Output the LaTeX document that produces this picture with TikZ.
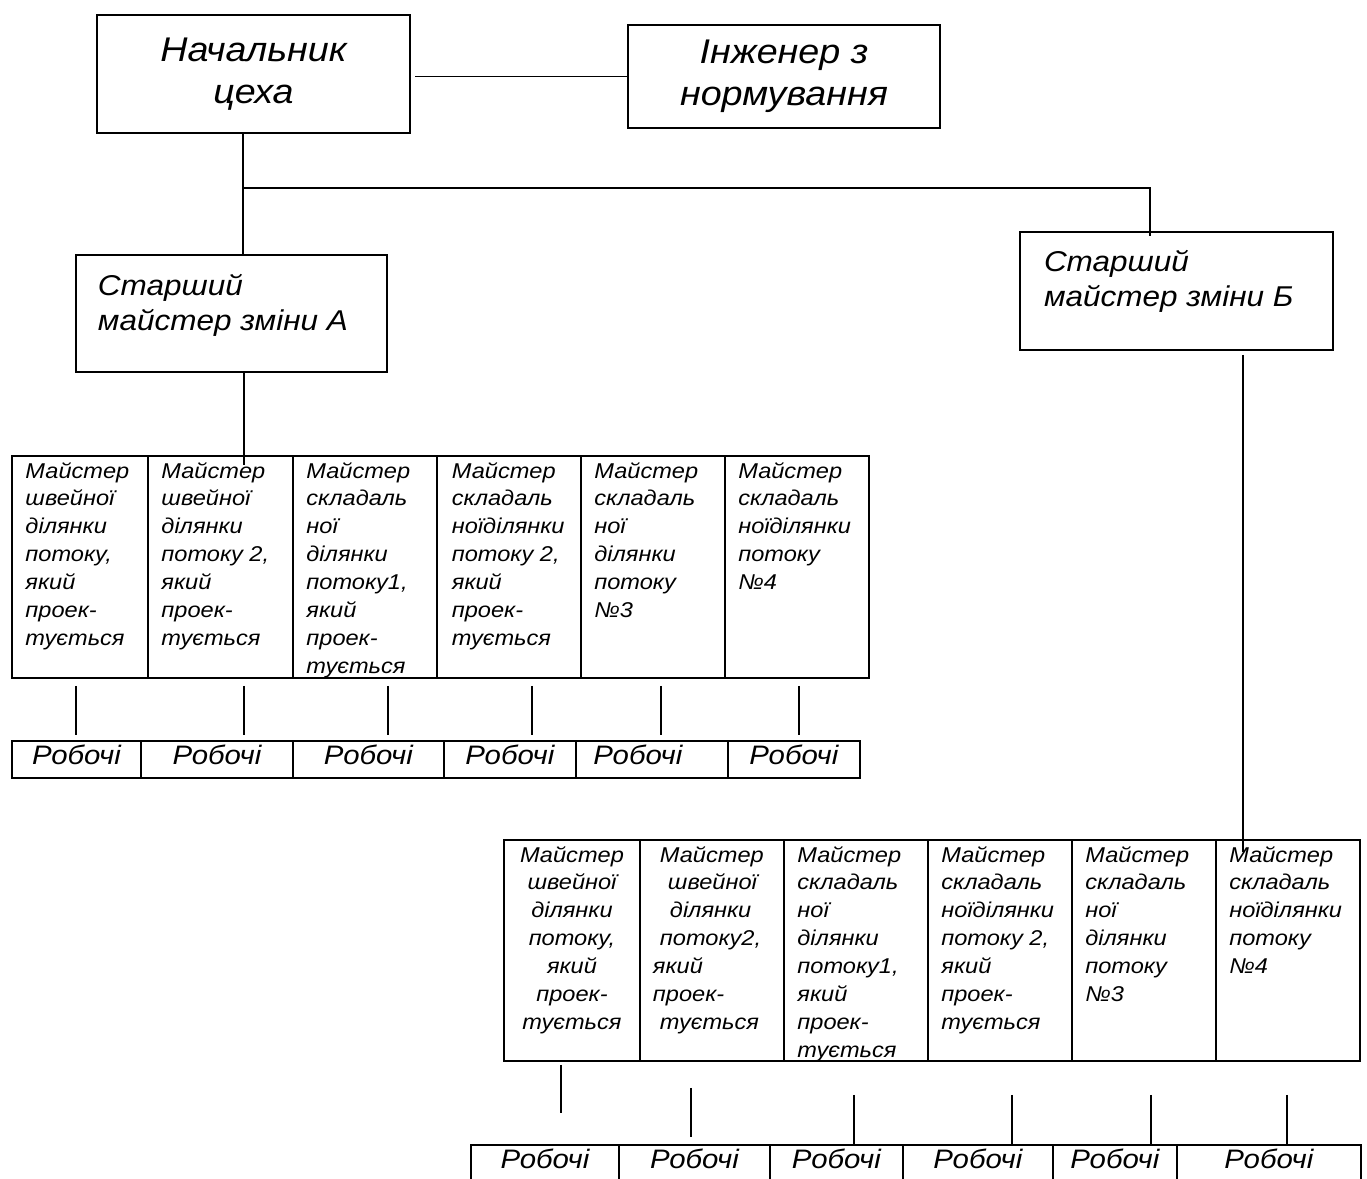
\documentclass[tikz,border=0pt]{standalone}
\usepackage{fontspec}
\setmainfont{Liberation Sans}[FakeStretch=1.1]
\usetikzlibrary{positioning,calc}

% text of a box, set from the top: [align]{width}{height}{top gap}{lines}
\newcommand{\boxpar}[5][\raggedright\leftskip=0.27cm]{%
  \parbox[t][#3][t]{#2}{\vspace{#4}#1\strut #5}}

\begin{document}
\begin{tikzpicture}[x=0.02cm, y=-0.02cm,
            every node/.style={line width=1.1pt, outer sep=0pt},
            bigbox/.style={draw, minimum width=6.26cm, minimum height=2.36cm, align=center,
                font=\fontsize{19.5}{23.8}\selectfont\itshape},
            midbox/.style={draw, anchor=north west, inner sep=0pt,
                font=\fontsize{16.3}{19.8}\selectfont\itshape},
            mcell/.style={draw, anchor=north west, inner sep=0pt,
                font=\fontsize{12.2}{15.9}\selectfont\itshape},
            wcell/.style={draw, anchor=north west, inner sep=0pt, minimum height=0.74cm,
                text height=10.5pt, text depth=5pt, font=\fontsize{15.2}{16}\selectfont\itshape},
            link/.style={line width=1.1pt}
        ]
            \useasboundingbox (0,0) rectangle (1367,1178);

            % top level
            \node[bigbox] (chief) at (253.5,74) {Начальник\\цеха};
            \node[bigbox, minimum width=6.24cm, minimum height=2.06cm] (eng) at (784,76.5) {Інженер з\\нормування};
            \node[midbox] (sa) at (76,255) {\boxpar[\raggedright\leftskip=0.44cm]{6.22cm}{2.34cm}{9.3pt}{Старший\\майстер зміни А}};
            \node[midbox] (sb) at (1020,232) {\boxpar[\raggedright\leftskip=0.48cm]{6.26cm}{2.36cm}{8.8pt}{Старший\\майстер зміни Б}};

            % shift A
            \node[mcell] (a1) at (12,456) {\boxpar{2.72cm}{4.44cm}{1.4pt}{Майстер\\швейної\\ділянки\\потоку,\\який\\проек-\\тується}};
            \node[mcell, right=0pt of a1] (a2) {\boxpar{2.90cm}{4.44cm}{1.4pt}{Майстер\\швейної\\ділянки\\потоку 2,\\який\\проек-\\тується}};
            \node[mcell, right=0pt of a2] (a3) {\boxpar{2.88cm}{4.44cm}{1.4pt}{Майстер\\складаль\\ної\\ділянки\\потоку1,\\який\\проек-\\тується}};
            \node[mcell, right=0pt of a3] (a4) {\boxpar[\raggedright\leftskip=0.3cm]{2.88cm}{4.44cm}{1.4pt}{Майстер\\складаль\\ноїділянки\\потоку 2,\\який\\проек-\\тується}};
            \node[mcell, right=0pt of a4] (a5) {\boxpar{2.88cm}{4.44cm}{1.4pt}{Майстер\\складаль\\ної\\ділянки\\потоку\\№3}};
            \node[mcell, right=0pt of a5] (a6) {\boxpar{2.88cm}{4.44cm}{1.4pt}{Майстер\\складаль\\ноїділянки\\потоку\\№4}};

            \node[wcell, minimum width=2.58cm] (ra1) at (12,741) {Робочі};
            \node[wcell, minimum width=3.04cm, right=0pt of ra1] (ra2) {Робочі};
            \node[wcell, minimum width=3.02cm, right=0pt of ra2] (ra3) {Робочі};
            \node[wcell, minimum width=2.64cm, right=0pt of ra3] (ra4) {Робочі};
            \node[wcell, minimum width=3.04cm, right=0pt of ra4] (ra5) {Робочі\hspace*{0.56cm}};
            \node[wcell, minimum width=2.64cm, right=0pt of ra5] (ra6) {Робочі};

            % shift B
            \node[mcell] (b1) at (504,840) {\boxpar[\centering]{2.72cm}{4.42cm}{1.4pt}{Майстер\\швейної\\ділянки\\потоку,\\який\\проек-\\тується}};
            \node[mcell, right=0pt of b1] (b2) {\boxpar[\raggedright\leftskip=0.26cm]{2.88cm}{4.42cm}{1.4pt}{\hspace*{0.14cm}Майстер\\\hspace*{0.3cm}швейної\\\hspace*{0.34cm}ділянки\\\hspace*{0.14cm}потоку2,\\який\\проек-\\\hspace*{0.14cm}тується}};
            \node[mcell, right=0pt of b2] (b3) {\boxpar{2.88cm}{4.42cm}{1.4pt}{Майстер\\складаль\\ної\\ділянки\\потоку1,\\який\\проек-\\тується}};
            \node[mcell, right=0pt of b3] (b4) {\boxpar{2.88cm}{4.42cm}{1.4pt}{Майстер\\складаль\\ноїділянки\\потоку 2,\\який\\проек-\\тується}};
            \node[mcell, right=0pt of b4] (b5) {\boxpar{2.88cm}{4.42cm}{1.4pt}{Майстер\\складаль\\ної\\ділянки\\потоку\\№3}};
            \node[mcell, right=0pt of b5] (b6) {\boxpar{2.88cm}{4.42cm}{1.4pt}{Майстер\\складаль\\ноїділянки\\потоку\\№4}};

            \node[wcell, minimum width=2.96cm] (rb1) at (471,1145) {Робочі};
            \node[wcell, minimum width=3.02cm, right=0pt of rb1] (rb2) {Робочі};
            \node[wcell, minimum width=2.66cm, right=0pt of rb2] (rb3) {Робочі};
            \node[wcell, minimum width=3.00cm, right=0pt of rb3] (rb4) {Робочі};
            \node[wcell, minimum width=2.48cm, right=0pt of rb4] (rb5) {Робочі};
            \node[wcell, minimum width=3.68cm, right=0pt of rb5] (rb6) {Робочі};

            % connectors
            \coordinate (fork) at (243,188);
            \coordinate (turn) at (1150,188);
            \coordinate (dropa) at (244,0);
            \coordinate (dropb) at (1243,0);

            \draw[link] (eng.west) -- ($(eng.west -| chief.east)+(5,0)$);
            \draw[link, line width=0.7pt] (chief.south -| fork) -- (sa.north -| fork);
            \draw[link] (fork) -- (turn) -- ($(turn |- sb.north)+(0,4)$);
            \draw[link] (sa.south -| dropa) -- ($(a2.north -| dropa)+(0,9)$);
            \draw[link] ($(sb.south -| dropb)+(0,5)$) -- ($(b6.north -| dropb)+(0,12)$);

            \foreach \m/\x/\g/\l in {a1/76/8/49, a2/244/8/49, a3/388/8/49, a4/532/8/49, a5/661/8/49, a6/799/8/49,
                    b1/561/4/48, b2/691/27/49, b3/854/34/50, b4/1012/34/50, b5/1151/34/50, b6/1287/34/50}
                \draw[link] (\m.south -| \x,0) ++(0,\g) -- ++(0,\l);
        \end{tikzpicture}
\end{document}
